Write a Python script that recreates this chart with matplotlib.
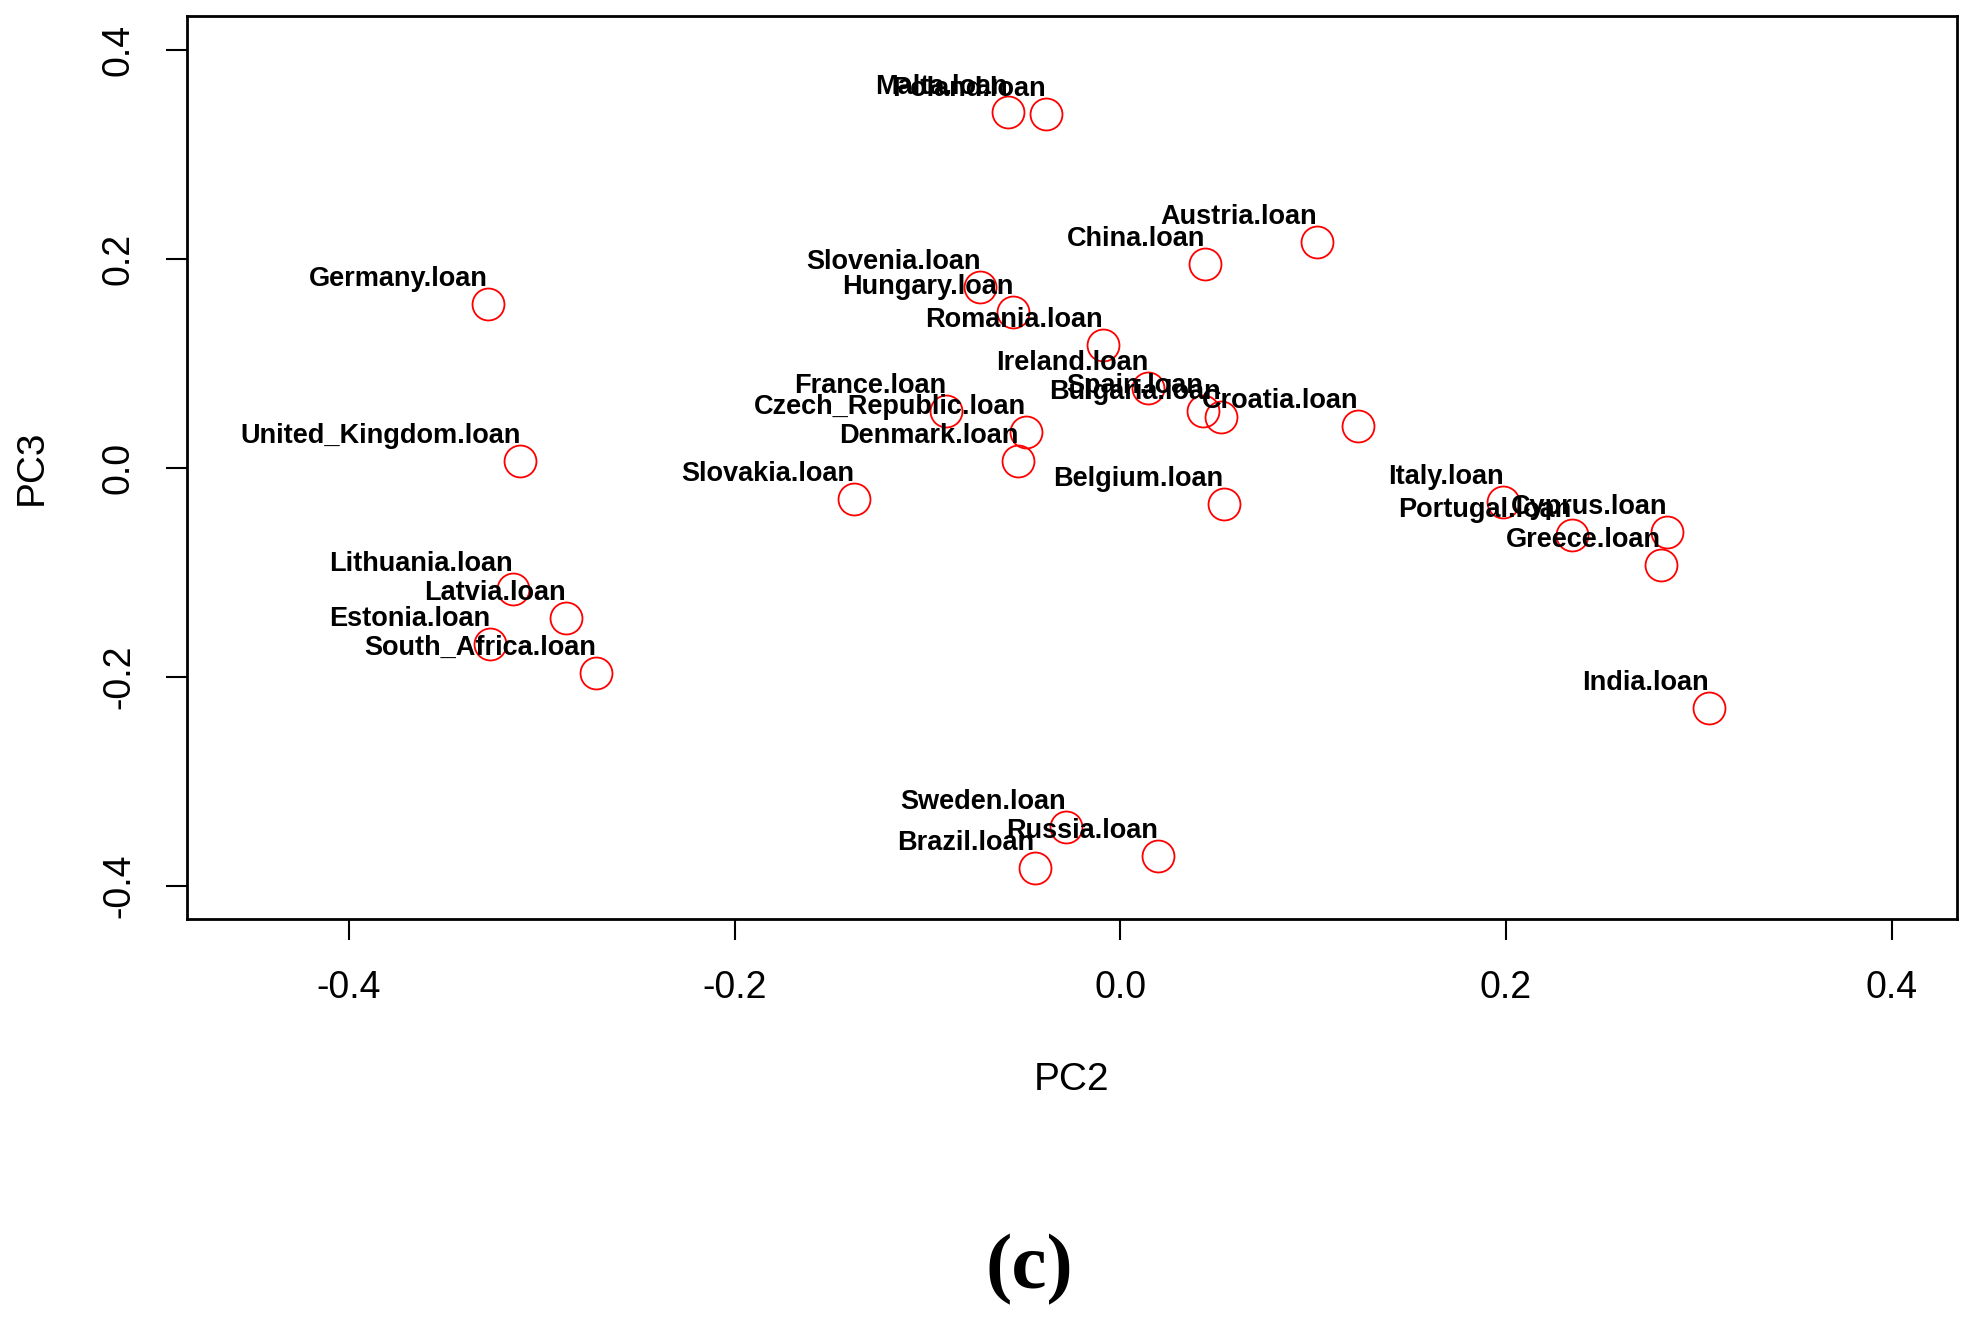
import matplotlib
matplotlib.use("Agg")
import matplotlib.pyplot as plt

# PCA loadings, PC2 vs PC3
names = ["Malta.loan", "Poland.loan", "Austria.loan", "China.loan", "Germany.loan",
         "Slovenia.loan", "Hungary.loan", "Romania.loan", "Ireland.loan", "Spain.loan",
         "Bulgaria.loan", "Croatia.loan", "France.loan", "Czech_Republic.loan",
         "Denmark.loan", "United_Kingdom.loan", "Slovakia.loan", "Belgium.loan",
         "Italy.loan", "Portugal.loan", "Cyprus.loan", "Greece.loan", "India.loan",
         "Lithuania.loan", "Latvia.loan", "Estonia.loan", "South_Africa.loan",
         "Sweden.loan", "Russia.loan", "Brazil.loan"]
pc2 = [-0.0582, -0.0386, 0.1020, 0.0438, -0.3281,
       -0.0725, -0.0556, -0.0092, 0.0144, 0.0431,
       0.0523, 0.1235, -0.0902, -0.0490,
       -0.0529, -0.3111, -0.1379, 0.0536,
       0.1987, 0.2340, 0.2837, 0.2804, 0.3052,
       -0.3150, -0.2876, -0.3268, -0.2719,
       -0.0281, 0.0196, -0.0444]
pc3 = [0.3406, 0.3382, 0.2158, 0.1952, 0.1564,
       0.1733, 0.1491, 0.1176, 0.0764, 0.0545,
       0.0485, 0.0400, 0.0545, 0.0339,
       0.0061, 0.0061, -0.0303, -0.0352,
       -0.0327, -0.0642, -0.0618, -0.0933, -0.2303,
       -0.1164, -0.1442, -0.1685, -0.1964,
       -0.3442, -0.3721, -0.3830]

xticks = [-0.4, -0.2, 0.0, 0.2, 0.4]
yticks = [-0.4, -0.2, 0.0, 0.2, 0.4]
ticklabels = ["-0.4", "-0.2", "0.0", "0.2", "0.4"]

plt.rcParams['font.family'] = ['Liberation Sans', 'DejaVu Sans']

fig = plt.figure(figsize=(19.78, 13.23), dpi=100)
ax = fig.add_axes([0.0945, 0.3054, 0.895, 0.6822])

ax.plot(pc2, pc3, 'o', mfc='none', mec='red', ms=23, mew=1.3, ls='none')
for n, x, y in zip(names, pc2, pc3):
    ax.annotate(n, (x, y), xytext=(0, 13), textcoords='offset points',
                ha='right', va='baseline', fontsize=19.5, fontweight='bold')

ax.set_xlim(-0.484, 0.434)
ax.set_ylim(-0.432, 0.432)
ax.set_xticks(xticks)
ax.set_xticklabels(ticklabels)
ax.set_yticks(yticks)
ax.set_yticklabels(ticklabels, rotation=90, va='center')
ax.tick_params(axis='both', length=15, width=1.5, labelsize=27)
ax.tick_params(axis='x', pad=22)
ax.tick_params(axis='y', pad=21)
for s in ax.spines.values():
    s.set_linewidth(2)

fig.text(0.5415, 1 - 1080 / 1323, "PC2", fontsize=28, ha='center', va='center')
fig.text(32 / 1978, 1 - 467 / 1323, "PC3", fontsize=28, ha='center', va='center', rotation=90)
fig.text(1029 / 1978, 1 - 1270 / 1323, "(c)", fontsize=57, fontweight='bold',
         family=['Liberation Serif', 'DejaVu Serif'], ha='center', va='center')

fig.savefig("out.png", dpi=100)
